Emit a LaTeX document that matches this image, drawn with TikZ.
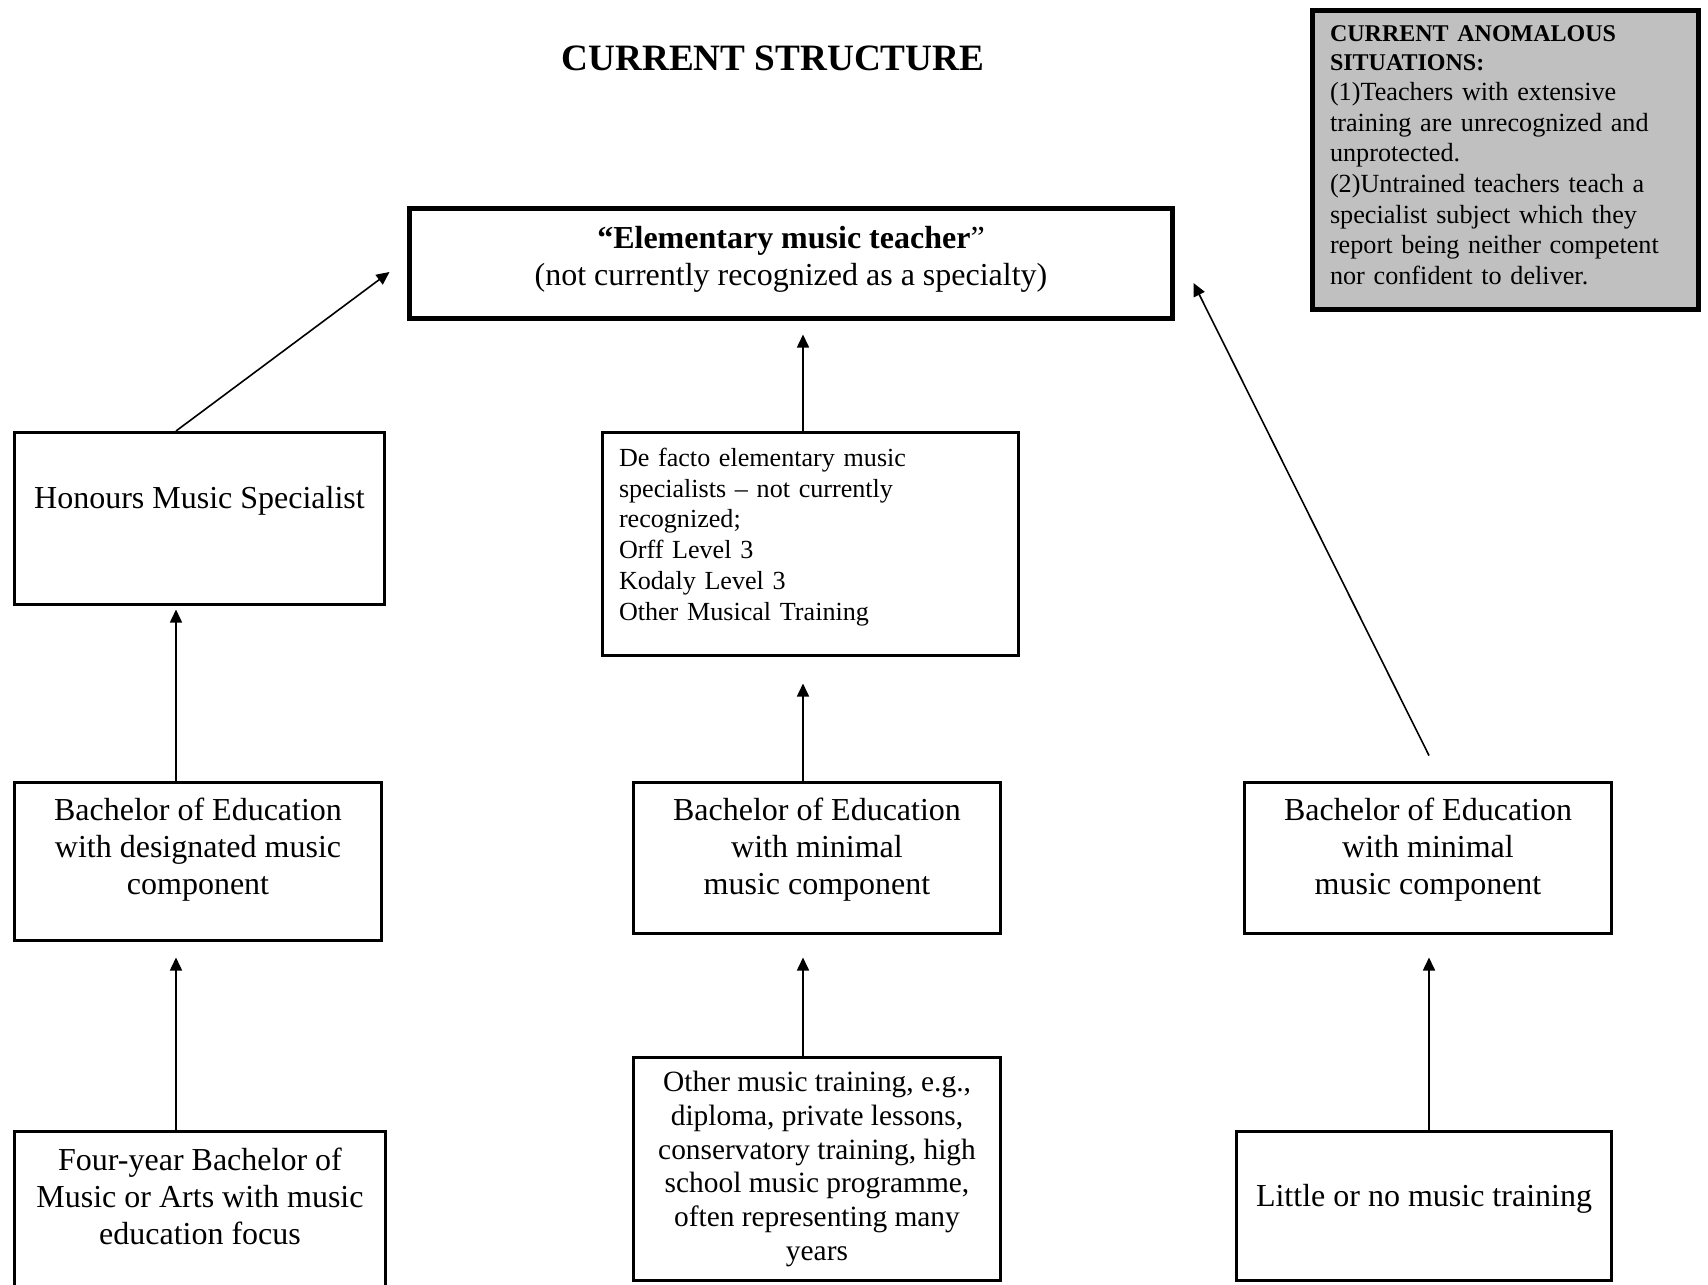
\documentclass[tikz,border=0pt]{standalone}
\usepackage{fontspec}
\setmainfont{Liberation Serif}
\usepackage{tikz}
\usetikzlibrary{arrows.meta, calc, positioning}
\definecolor{notegray}{HTML}{C0C0C0}
\tikzset{
    boxnode/.style = {draw, rectangle, line width=1.5pt, inner sep=0.2em, node distance=0em,
      align=center, font=\fontsize{16}{18.5}\selectfont},
    topnode/.style = {boxnode, line width=2.5pt},
    listnode/.style = {boxnode, align=left, inner xsep=8.25pt, font=\fontsize{13.05}{15.4}\selectfont},
    notenode/.style = {draw, rectangle, fill=notegray, line width=2.5pt, align=left, inner xsep=8.75pt,
      node distance=0em, font=\fontsize{13.1}{15.3}\selectfont},
    titlenode/.style = {draw=none, fill=none, inner sep=0em, font=\bfseries\fontsize{18.6}{22}\selectfont},
    connect/.style = {black, line width=0.8pt, -{Triangle[length=6.5pt,width=6pt]}}
}
\newcommand{\lowstrut}[1]{\rule[-#1]{0pt}{#1}}
\newcommand{\notehead}[1]{{\bfseries\fontsize{12}{13.6}\selectfont #1}}

\begin{document}
\begin{tikzpicture}[node distance=0pt]
    \clip (0,0) rectangle (854pt,-642.5pt);

	\node [titlenode, name=title] at (386.5pt,-29pt) {CURRENT STRUCTURE};

    \node [notenode, name=note, right of = title, xshift=366.25pt, yshift=-51pt,
        text width=175.5pt, minimum width=193pt, minimum height=149.5pt]
        {\notehead{CURRENT ANOMALOUS}\\[-0.8pt] \notehead{SITUATIONS:}\\ (1)Teachers with extensive\\
        training are unrecognized and\\ unprotected.\\ (2)Untrained teachers teach a\\
        specialist subject which they\\ report being neither competent\\
        nor confident to deliver.\lowstrut{5.2pt}};

    \node [topnode, name=top, below of = title, xshift=9pt, yshift=-102.75pt,
        minimum width=381.5pt, minimum height=55pt]
        {\textbf{“Elementary music teacher}”\\ (not currently recognized as a specialty)\lowstrut{7.8pt}};

    % second row
    \node [listnode, name=defacto, below of = top, xshift=9.75pt, yshift=-140.25pt,
        text width=191.5pt, minimum width=208pt, minimum height=111.5pt]
        {De facto elementary music\\ specialists – not currently\\ recognized;\\ Orff Level 3\\
        Kodaly Level 3\\ Other Musical Training\lowstrut{9.8pt}};
    \node [boxnode, name=honours, left of = defacto, xshift=-305.5pt, yshift=12.75pt,
        minimum width=185pt, minimum height=86pt] {Honours Music Specialist\lowstrut{21pt}};

    % third row
    \node [boxnode, name=bedL, below of = honours, xshift=-0.75pt, yshift=-171.5pt,
        minimum width=183.5pt, minimum height=79pt]
        {Bachelor of Education\\ with designated music\\ component\lowstrut{15.3pt}};
    \node [boxnode, name=bedM, below of = defacto, xshift=3.25pt, yshift=-157pt,
        minimum width=183.5pt, minimum height=75.5pt]
        {Bachelor of Education\\ with minimal\\ music component\lowstrut{11.8pt}};
    \node [boxnode, name=bedR, right of = bedM, xshift=305.5pt,
        minimum width=183.5pt, minimum height=75.5pt]
        {Bachelor of Education\\ with minimal\\ music component\lowstrut{11.8pt}};

    % bottom row
    \node [boxnode, name=botL, below of = bedL, xshift=1pt, yshift=-174.75pt,
        minimum width=185.5pt, minimum height=79.5pt]
        {Four-year Bachelor of\\ Music or Arts with music\\ education focus\lowstrut{15pt}};
    \node [boxnode, name=botM, below of = bedM, yshift=-155.5pt,
        minimum width=183.5pt, minimum height=111.5pt, font=\fontsize{14.7}{16.9}\selectfont]
        {Other music training, e.g.,\\ diploma, private lessons,\\ conservatory training, high\\
        school music programme,\\ often representing many\\ years};
    \node [boxnode, name=botR, below of = bedR, xshift=-2pt, yshift=-174pt,
        minimum width=187.5pt, minimum height=74.5pt] {Little or no music training\lowstrut{10.2pt}};

    \draw [connect] ([xshift=-11.75pt]honours.north) -- ([shift={(-8.75pt,-4.25pt)}]top.west);
    \draw [connect, shorten >=6.75pt] ([xshift=-3.75pt]defacto.north) -- ([xshift=-3.75pt]defacto.north |- top.south);
    \draw [connect] ([shift={(0.5pt,12.75pt)}]bedR.north) -- ([shift={(9.25pt,-9.75pt)}]top.east);

    \draw [connect, shorten >=1.75pt] ([xshift=-11pt]bedL.north) -- ([xshift=-11pt]bedL.north |- honours.south);
    \draw [connect, shorten >=13.25pt] ([xshift=-7pt]bedM.north) -- ([xshift=-7pt]bedM.north |- defacto.south);

    \draw [connect, shorten >=7.75pt] ([xshift=-12pt]botL.north) -- ([xshift=-12pt]botL.north |- bedL.south);
    \draw [connect, shorten >=11.25pt] ([xshift=-7pt]botM.north) -- ([xshift=-7pt]botM.north |- bedM.south);
    \draw [connect, shorten >=11.25pt] ([xshift=2.5pt]botR.north) -- ([xshift=2.5pt]botR.north |- bedR.south);
\end{tikzpicture}
\end{document}
